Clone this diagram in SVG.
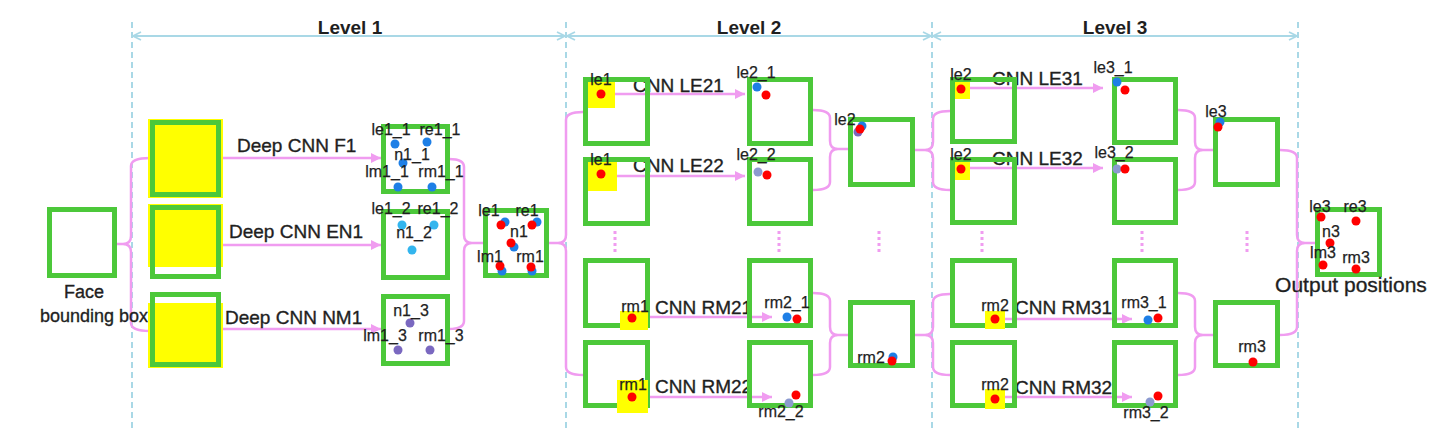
<svg xmlns="http://www.w3.org/2000/svg" width="1440" height="440" viewBox="0 0 1440 440">
<defs>
<style>
.bx{fill:none;stroke:#4cc83a;stroke-width:5}
.ye{fill:#ffff00}
.pk{fill:none;stroke:#f09cf0;stroke-width:2.5}
.ar{fill:none;stroke:#f09cf0;stroke-width:2.5;marker-end:url(#ah)}
.dd{stroke:#f09cf0;stroke-width:3;stroke-dasharray:3 3}
.vd{stroke:#a9d8e6;stroke-width:2;stroke-dasharray:6 4}
.dim{stroke:#a9d8e6;stroke-width:2;marker-start:url(#dm);marker-end:url(#dm)}
text{font-family:"Liberation Sans",Arial,sans-serif;fill:#1f1f1f;stroke:#1f1f1f;stroke-width:0.35}
.lv{font-size:19px;font-weight:bold;text-anchor:middle;stroke-width:0}
.cn{font-size:19px}
.sm{font-size:16px;text-anchor:middle;stroke-width:0.25}
.big{font-size:18px;text-anchor:middle}
.r{fill:#ff0000}
.b{fill:#1e7fe6}
.lb{fill:#33b5ee}
.pu{fill:#7a68c0}
.gb{fill:#8c9ad0}
</style>
<marker id="ah" markerWidth="10" markerHeight="10" refX="10" refY="5" orient="auto" markerUnits="userSpaceOnUse"><path d="M0,0 L10,5 L0,10 Z" fill="#f09cf0"/></marker>
<marker id="dm" markerWidth="10" markerHeight="10" refX="9" refY="5" orient="auto-start-reverse" markerUnits="userSpaceOnUse"><path d="M1,1 L9,5 L1,9" fill="none" stroke="#a9d8e6" stroke-width="1.8"/></marker>
</defs>
<rect width="1440" height="440" fill="#fff"/>

<g id="levels">
<line class="vd" x1="132" y1="22" x2="132" y2="428"/>
<line class="vd" x1="566" y1="22" x2="566" y2="428"/>
<line class="vd" x1="932" y1="22" x2="932" y2="428"/>
<line class="vd" x1="1298" y1="22" x2="1298" y2="428"/>
<line class="dim" x1="133" y1="36" x2="565" y2="36"/>
<line class="dim" x1="567" y1="36" x2="931" y2="36"/>
<line class="dim" x1="933" y1="36" x2="1297" y2="36"/>
<text class="lv" x="350" y="34">Level 1</text>
<text class="lv" x="749" y="34">Level 2</text>
<text class="lv" x="1115" y="34">Level 3</text>
</g>

<g id="connectors">
<path class="pk" d="M150,158 Q131,158 131,166 V236 Q131,244 123,244 H115 M123,244 Q131,244 131,252 V323 Q131,331 150,331"/>
<path class="pk" d="M449,159 Q464,159 464,167 V235 Q464,243 472,243 H483 M472,243 Q464,243 464,251 V321 Q464,329 449,329"/>
<path class="pk" d="M583,112 Q566,112 566,120 V235 Q566,243 558,243 H549 M558,243 Q566,243 566,251 V367 Q566,375 583,375"/>
<path class="pk" d="M813,110 Q830,110 830,118 V141 Q830,149 838,149 H848 M838,149 Q830,149 830,157 V182 Q830,190 813,190"/>
<path class="pk" d="M813,293 Q830,293 830,301 V327 Q830,335 838,335 H848 M838,335 Q830,335 830,343 V367 Q830,375 813,375"/>
<path class="pk" d="M950,111 Q933,111 933,119 V142 Q933,150 925,150 H915 M925,150 Q933,150 933,158 V182 Q933,190 950,190"/>
<path class="pk" d="M950,294 Q933,294 933,302 V327 Q933,335 925,335 H915 M925,335 Q933,335 933,343 V367 Q933,375 950,375"/>
<path class="pk" d="M1178,110 Q1195,110 1195,118 V142 Q1195,150 1203,150 H1213 M1203,150 Q1195,150 1195,158 V182 Q1195,190 1178,190"/>
<path class="pk" d="M1178,293 Q1195,293 1195,301 V327 Q1195,335 1203,335 H1213 M1203,335 Q1195,335 1195,343 V367 Q1195,375 1178,375"/>
<path class="pk" d="M1280,150 Q1297,150 1297,158 V235 Q1297,243 1305,243 H1315 M1305,243 Q1297,243 1297,251 V327 Q1297,335 1280,335"/>
<line class="ar" x1="223" y1="158" x2="381" y2="158"/>
<line class="ar" x1="223" y1="245" x2="381" y2="245"/>
<line class="ar" x1="223" y1="329" x2="381" y2="329"/>
<line class="ar" x1="615" y1="94" x2="745" y2="94"/>
<line class="ar" x1="617" y1="176" x2="745" y2="176"/>
<line class="ar" x1="648" y1="317" x2="772" y2="317"/>
<line class="ar" x1="648" y1="397" x2="772" y2="397"/>
<line class="ar" x1="970" y1="88" x2="1103" y2="88"/>
<line class="ar" x1="970" y1="168" x2="1103" y2="168"/>
<line class="ar" x1="1005" y1="319" x2="1132" y2="319"/>
<line class="ar" x1="1005" y1="397" x2="1132" y2="397"/>
<line class="dd" x1="615" y1="231" x2="615" y2="252"/>
<line class="dd" x1="779" y1="231" x2="779" y2="252"/>
<line class="dd" x1="879" y1="231" x2="879" y2="252"/>
<line class="dd" x1="982" y1="231" x2="982" y2="252"/>
<line class="dd" x1="1142" y1="231" x2="1142" y2="252"/>
<line class="dd" x1="1247" y1="231" x2="1247" y2="252"/>
<text class="cn" x="237" y="152">Deep CNN F1</text>
<text class="cn" x="229" y="238">Deep CNN EN1</text>
<text class="cn" x="225" y="324">Deep CNN NM1</text>
<text class="cn" x="633" y="92">CNN LE21</text>
<text class="cn" x="633" y="172">CNN LE22</text>
<text class="cn" x="655" y="314">CNN RM21</text>
<text class="cn" x="655" y="393">CNN RM22</text>
<text class="cn" x="992" y="85">CNN LE31</text>
<text class="cn" x="992" y="165">CNN LE32</text>
<text class="cn" x="1015" y="314">CNN RM31</text>
<text class="cn" x="1015" y="394">CNN RM32</text>
</g>

<g id="face">
<rect class="bx" x="49.5" y="209.5" width="65" height="66"/>
<text class="big" x="84" y="298">Face</text>
<text class="big" x="94" y="322">bounding box</text>
</g>

<g id="crop-f1">
<rect class="ye" x="148" y="119" width="75" height="79"/>
<rect class="bx" x="152.5" y="122.5" width="66" height="72"/>
</g>
<g id="crop-en1">
<rect class="ye" x="148" y="204" width="75" height="63"/>
<rect class="bx" x="152.5" y="207.5" width="66" height="69"/>
</g>
<g id="crop-nm1">
<rect class="ye" x="148" y="303" width="75" height="65"/>
<rect class="bx" x="152.5" y="294.5" width="66" height="70"/>
</g>

<g id="out-f1">
<rect class="bx" x="383.5" y="126.5" width="64" height="65"/>
<circle class="b" cx="395" cy="144" r="4.5"/><circle class="b" cx="427" cy="142" r="4.5"/>
<circle class="b" cx="403" cy="163" r="4.5"/><circle class="b" cx="398" cy="187" r="4.5"/><circle class="b" cx="432" cy="187" r="4.5"/>
<text class="sm" x="391" y="135">le1_1</text><text class="sm" x="440" y="135">re1_1</text>
<text class="sm" x="412" y="160">n1_1</text>
<text class="sm" x="387" y="177">lm1_1</text><text class="sm" x="441" y="177">rm1_1</text>
</g>
<g id="out-en1">
<rect class="bx" x="383.5" y="211.5" width="64" height="66"/>
<circle class="lb" cx="402" cy="225" r="4.5"/><circle class="lb" cx="434" cy="225" r="4.5"/><circle class="lb" cx="412" cy="250" r="4.5"/>
<text class="sm" x="391" y="214">le1_2</text><text class="sm" x="438" y="214">re1_2</text>
<text class="sm" x="414" y="238">n1_2</text>
</g>
<g id="out-nm1">
<rect class="bx" x="383.5" y="296.5" width="64" height="67"/>
<circle class="pu" cx="410" cy="323" r="4.5"/><circle class="pu" cx="398" cy="350" r="4.5"/><circle class="pu" cx="430" cy="350" r="4.5"/>
<text class="sm" x="411" y="316">n1_3</text>
<text class="sm" x="385" y="341">lm1_3</text><text class="sm" x="441" y="341">rm1_3</text>
</g>
<g id="level1-result">
<rect class="bx" x="485.5" y="210.5" width="61" height="65"/>
<circle class="b" cx="505" cy="222" r="4.5"/><circle class="r" cx="501" cy="225" r="4.5"/>
<circle class="b" cx="537" cy="222" r="4.5"/><circle class="r" cx="532" cy="225" r="4.5"/>
<circle class="b" cx="514" cy="247" r="4.5"/><circle class="r" cx="511" cy="243" r="4.5"/>
<circle class="b" cx="502" cy="271" r="4.5"/><circle class="r" cx="500" cy="266" r="4.5"/>
<circle class="b" cx="532" cy="271" r="4.5"/><circle class="r" cx="531" cy="267" r="4.5"/>
<text class="sm" x="489" y="216">le1</text><text class="sm" x="527" y="216">re1</text>
<text class="sm" x="519" y="237">n1</text>
<text class="sm" x="490" y="262">lm1</text><text class="sm" x="530" y="262">rm1</text>
</g>

<g id="le21-in">
<rect class="ye" x="583" y="77" width="32" height="31"/>
<rect class="bx" x="585.5" y="79.5" width="62" height="64"/>
<circle class="r" cx="601" cy="94" r="4.5"/>
<text class="sm" x="601" y="85">le1</text>
</g>
<g id="le22-in">
<rect class="ye" x="583" y="157" width="34" height="34"/>
<rect class="bx" x="585.5" y="159.5" width="62" height="64"/>
<circle class="r" cx="601" cy="174" r="4.5"/>
<text class="sm" x="601" y="165">le1</text>
</g>
<g id="rm21-in">
<rect class="bx" x="585.5" y="260.5" width="62" height="65"/>
<rect class="ye" x="620" y="311" width="28" height="19"/>
<circle class="r" cx="632" cy="318" r="4.5"/>
<text class="sm" x="635" y="312">rm1</text>
</g>
<g id="rm22-in">
<rect class="bx" x="585.5" y="342.5" width="62" height="63"/>
<rect class="ye" x="617" y="380" width="31" height="33"/>
<circle class="r" cx="632" cy="397" r="4.5"/>
<text class="sm" x="633" y="390">rm1</text>
</g>
<g id="le21-out">
<rect class="bx" x="749.5" y="79.5" width="61" height="64"/>
<circle class="b" cx="757" cy="87" r="4.5"/><circle class="r" cx="766" cy="95" r="4.5"/>
<text class="sm" x="756" y="78">le2_1</text>
</g>
<g id="le22-out">
<rect class="bx" x="749.5" y="159.5" width="61" height="64"/>
<circle class="gb" cx="758" cy="172" r="4.5"/><circle class="r" cx="767" cy="175" r="4.5"/>
<text class="sm" x="756" y="160">le2_2</text>
</g>
<g id="le2">
<rect class="bx" x="850.5" y="119.5" width="62" height="65"/>
<circle class="b" cx="862" cy="126" r="4.5"/><circle class="pu" cx="858" cy="132" r="4.5"/><circle class="r" cx="860" cy="129" r="4.5"/>
<text class="sm" x="845" y="125">le2</text>
</g>
<g id="rm21-out">
<rect class="bx" x="749.5" y="260.5" width="61" height="65"/>
<circle class="b" cx="787" cy="317" r="4.5"/><circle class="r" cx="797" cy="319" r="4.5"/>
<text class="sm" x="787" y="308">rm2_1</text>
</g>
<g id="rm22-out">
<rect class="bx" x="749.5" y="342.5" width="61" height="63"/>
<circle class="gb" cx="789" cy="403" r="4.5"/><circle class="r" cx="796" cy="395" r="4.5"/>
<text class="sm" x="781" y="417">rm2_2</text>
</g>
<g id="rm2">
<rect class="bx" x="850.5" y="302.5" width="62" height="63"/>
<circle class="b" cx="893" cy="357" r="4.5"/><circle class="r" cx="892" cy="361" r="4.5"/>
<text class="sm" x="871" y="363">rm2</text>
</g>

<g id="le31-in">
<rect class="ye" x="951" y="79" width="19" height="20"/>
<rect class="bx" x="952.5" y="79.5" width="62" height="62"/>
<circle class="r" cx="961" cy="89" r="4.5"/>
<text class="sm" x="961" y="80">le2</text>
</g>
<g id="le32-in">
<rect class="ye" x="951" y="160" width="19" height="20"/>
<rect class="bx" x="952.5" y="159.5" width="62" height="63"/>
<circle class="r" cx="961" cy="169" r="4.5"/>
<text class="sm" x="961" y="160">le2</text>
</g>
<g id="rm31-in">
<rect class="bx" x="952.5" y="260.5" width="62" height="65"/>
<rect class="ye" x="985" y="311" width="20" height="18"/>
<circle class="r" cx="995" cy="319" r="4.5"/>
<text class="sm" x="995" y="311">rm2</text>
</g>
<g id="rm32-in">
<rect class="bx" x="952.5" y="342.5" width="62" height="63"/>
<rect class="ye" x="985" y="389" width="20" height="20"/>
<circle class="r" cx="995" cy="399" r="4.5"/>
<text class="sm" x="995" y="390">rm2</text>
</g>
<g id="le31-out">
<rect class="bx" x="1114.5" y="79.5" width="61" height="63"/>
<circle class="b" cx="1117" cy="82" r="4.5"/><circle class="r" cx="1125" cy="90" r="4.5"/>
<text class="sm" x="1113" y="73">le3_1</text>
</g>
<g id="le32-out">
<rect class="bx" x="1114.5" y="159.5" width="61" height="63"/>
<circle class="gb" cx="1117" cy="169" r="4.5"/><circle class="r" cx="1125" cy="169" r="4.5"/>
<text class="sm" x="1114" y="158">le3_2</text>
</g>
<g id="le3">
<rect class="bx" x="1215.5" y="119.5" width="62" height="65"/>
<circle class="b" cx="1220" cy="122" r="4.5"/><circle class="r" cx="1218" cy="127" r="4.5"/>
<text class="sm" x="1216" y="117">le3</text>
</g>
<g id="rm31-out">
<rect class="bx" x="1114.5" y="260.5" width="61" height="65"/>
<circle class="b" cx="1148" cy="320" r="4.5"/><circle class="r" cx="1158" cy="318" r="4.5"/>
<text class="sm" x="1144" y="308">rm3_1</text>
</g>
<g id="rm32-out">
<rect class="bx" x="1114.5" y="342.5" width="61" height="63"/>
<circle class="gb" cx="1150" cy="402" r="4.5"/><circle class="r" cx="1158" cy="396" r="4.5"/>
<text class="sm" x="1146" y="418">rm3_2</text>
</g>
<g id="rm3">
<rect class="bx" x="1215.5" y="302.5" width="62" height="63"/>
<circle class="r" cx="1253" cy="362" r="4.5"/>
<text class="sm" x="1252" y="352">rm3</text>
</g>

<g id="output">
<rect class="bx" x="1317.5" y="209.5" width="62" height="65"/>
<circle class="r" cx="1321" cy="217" r="4.5"/><circle class="r" cx="1356" cy="221" r="4.5"/>
<circle class="r" cx="1330" cy="243" r="4.5"/><circle class="r" cx="1323" cy="265" r="4.5"/><circle class="r" cx="1356" cy="269" r="4.5"/>
<text class="sm" x="1320" y="212">le3</text><text class="sm" x="1355" y="212">re3</text>
<text class="sm" x="1331" y="237">n3</text>
<text class="sm" x="1323" y="258">lm3</text><text class="sm" x="1356" y="263">rm3</text>
<text x="1351" y="292" style="font-size:21px;text-anchor:middle">Output positions</text>
</g>
</svg>
